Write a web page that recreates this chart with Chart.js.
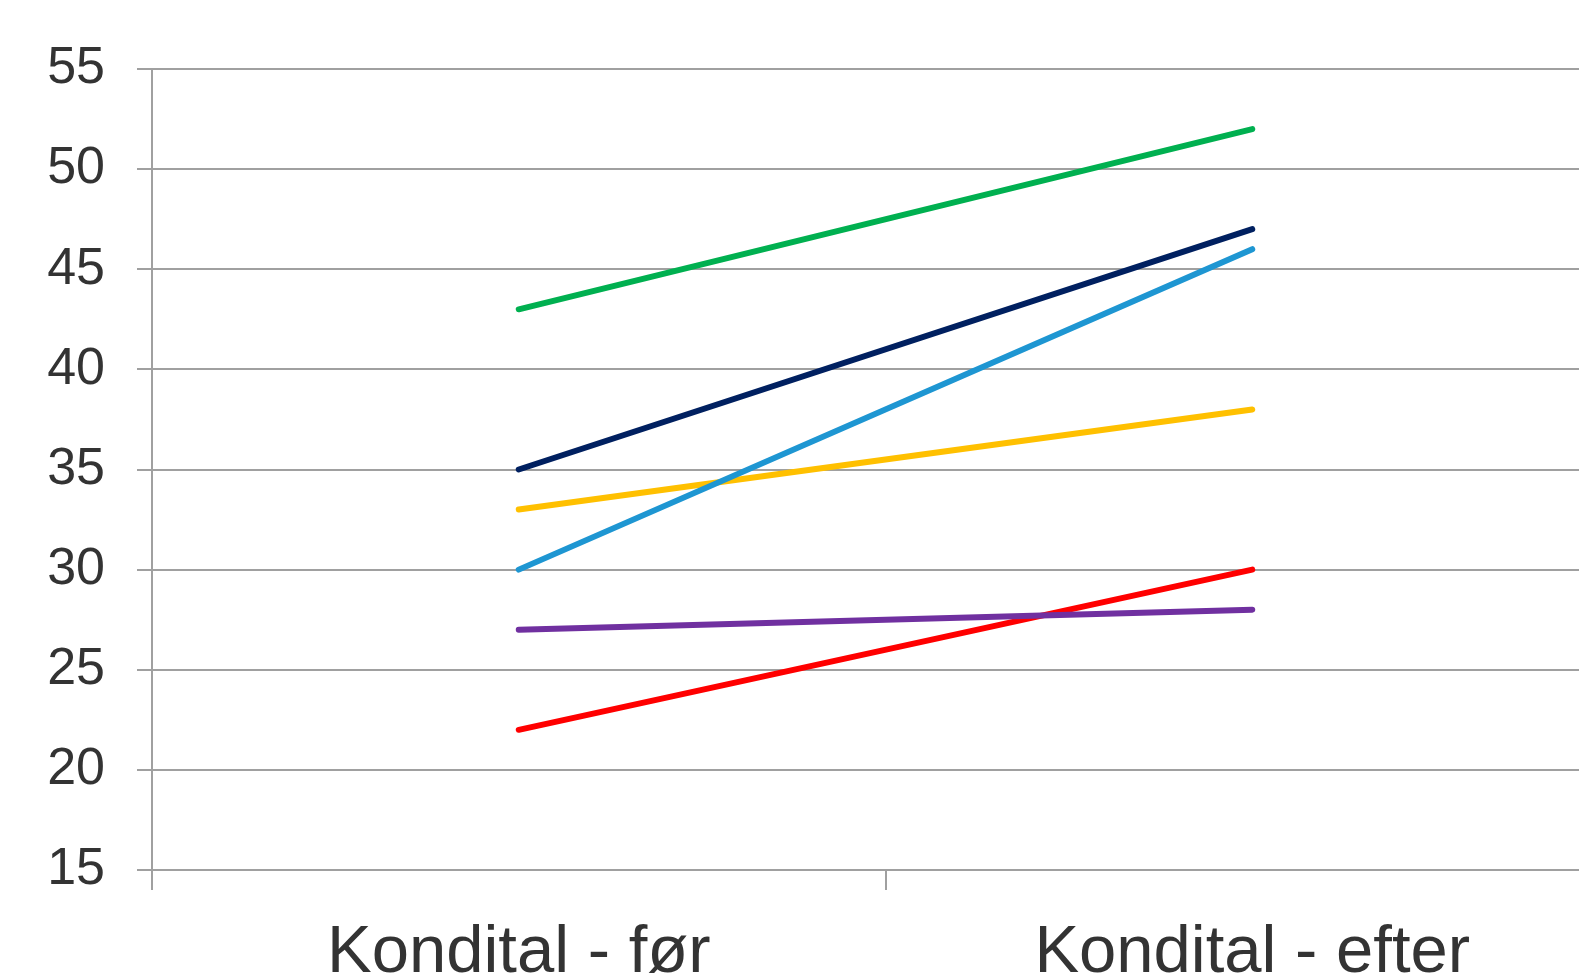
<!DOCTYPE html>
<html>
<head>
<meta charset="utf-8">
<script src="https://cdn.jsdelivr.net/npm/chart.js@4/dist/chart.umd.min.js"></script>
<style>
  html, body { margin: 0; padding: 0; background: #ffffff; overflow: hidden; width: 1579px; height: 973px; }
  #wrap { position: absolute; left: 0; top: 0; width: 1619px; height: 990px; }
</style>
</head>
<body>
<div id="wrap"><canvas id="chart"></canvas></div>
<script>
// Categories and values (kondital before / after)
const categories = ['Kondital - før', 'Kondital - efter'];
const green  = [43, 52];
const navy   = [35, 47];
const blue   = [30, 46];
const yellow = [33, 38];
const purple = [27, 28];
const red    = [22, 30];

const yMin = 15, yMax = 55, yStep = 5;

const gridColor = '#a0a0a0';
const textColor = '#333333';
const fontFamily = '"Liberation Sans", Arial, sans-serif';

function series(label, data, color) {
  return {
    label, data,
    borderColor: color,
    backgroundColor: color,
    borderWidth: 6,
    borderCapStyle: 'round',
    pointRadius: 0,
    pointHoverRadius: 0,
    tension: 0,
    fill: false
  };
}

new Chart(document.getElementById('chart'), {
  type: 'line',
  data: {
    labels: categories,
    datasets: [
      series('Grøn', green, '#00b050'),
      series('Mørkeblå', navy, '#002060'),
      series('Blå', blue, '#1e96d2'),
      series('Gul', yellow, '#ffc000'),
      series('Lilla', purple, '#7030a0'),
      series('Rød', red, '#ff0000')
    ]
  },
  options: {
    responsive: true,
    maintainAspectRatio: false,
    animation: false,
    layout: { padding: { left: 0, right: 0, top: 69, bottom: 0 } },
    plugins: { legend: { display: false }, tooltip: { enabled: false } },
    scales: {
      x: {
        offset: true,
        grid: {
          display: true,
          offset: true,
          drawOnChartArea: false,
          drawTicks: true,
          tickLength: 20,
          color: gridColor,
          lineWidth: 2
        },
        border: { display: false },
        ticks: {
          color: textColor,
          padding: 23,
          maxRotation: 0,
          autoSkip: false,
          font: { family: fontFamily, size: 67, lineHeight: 1.2 }
        },
        afterFit(scale) { scale.height = 120; }
      },
      y: {
        min: yMin,
        max: yMax,
        grid: {
          color: gridColor,
          lineWidth: 2,
          tickLength: 15,
          drawTicks: true
        },
        border: { display: true, color: gridColor, width: 2 },
        ticks: {
          stepSize: yStep,
          color: textColor,
          padding: 32,
          font: { family: fontFamily, size: 52, lineHeight: 1.2 }
        },
        afterFit(scale) { scale.width = 152; }
      }
    }
  }
});
</script>
</body>
</html>
